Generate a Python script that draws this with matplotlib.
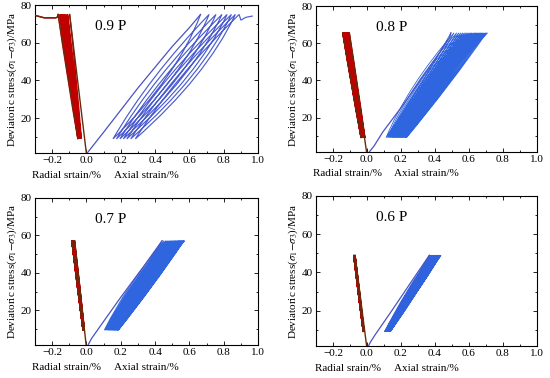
import matplotlib
matplotlib.use("Agg")
import matplotlib.pyplot as plt
from matplotlib.path import Path
from matplotlib.patches import PathPatch
from matplotlib.ticker import MultipleLocator

plt.rcParams['font.family'] = ['Liberation Serif', 'DejaVu Serif']
plt.rcParams['mathtext.fontset'] = 'stix'

# ---------------- data ----------------
panel_labels = ["0.9 P", "0.8 P", "0.7 P", "0.6 P"]
radial_labels = ["Radial srtain/%", "Radial strain/%", "Radial strain/%", "Radial srain/%"]
axial_label = "Axial strain/%"
ylabel = r"Deviatoric stress($\sigma_1$$-$$\sigma_3$)/MPa"
x_ticks = [-0.2, 0.0, 0.2, 0.4, 0.6, 0.8, 1.0]
x_ticklabels = ["\u22120.2", "0.0", "0.2", "0.4", "0.6", "0.8", "1.0"]
y_ticks = [20, 40, 60, 80]

# stress limits of the cycles
stress_max = [75.0, 65.6, 57.2, 49.0]
stress_min = [9.0, 9.2, 9.4, 9.0]

# initial loading curves (axial)
init_axial_x = [[0.0, 0.10, 0.30, 0.50, 0.60, 0.665],
                [0.0, 0.043, 0.092, 0.21, 0.347, 0.484, 0.494],
                [0.0, 0.03, 0.08, 0.20, 0.33, 0.441],
                [0.0, 0.02, 0.049, 0.15, 0.26, 0.367]]
init_axial_y = [[1.0, 12.5, 36.0, 58.0, 68.0, 75.0],
                [0.0, 4.9, 12.1, 26.5, 44.5, 62.5, 65.6],
                [0.0, 5.0, 11.5, 27.0, 43.0, 57.2],
                [0.0, 3.5, 7.5, 20.5, 35.0, 49.0]]

# axial strain at peak / valley of every cycle
axial_peak = [
    [0.665, 0.715, 0.755, 0.79, 0.82, 0.845, 0.868, 0.89],
    [0.494, 0.512, 0.528, 0.541, 0.553, 0.564, 0.574, 0.584, 0.593, 0.602,
     0.61, 0.618, 0.626, 0.634, 0.641, 0.648, 0.655, 0.662, 0.669, 0.676,
     0.683, 0.69, 0.697, 0.704, 0.71],
    [0.441, 0.452, 0.462, 0.470, 0.477, 0.484, 0.490, 0.496, 0.501, 0.506,
     0.511, 0.515, 0.519, 0.523, 0.527, 0.531, 0.535, 0.538, 0.541, 0.544,
     0.547, 0.550, 0.553, 0.556, 0.559, 0.562, 0.565, 0.567, 0.570, 0.573],
    [0.367, 0.374, 0.380, 0.385, 0.389, 0.393, 0.396, 0.399, 0.402, 0.405,
     0.407, 0.409, 0.411, 0.413, 0.415, 0.417, 0.419, 0.420, 0.422, 0.423,
     0.425, 0.426, 0.427, 0.428, 0.429, 0.430, 0.431, 0.432, 0.434, 0.435],
]
axial_valley = [
    [0.155, 0.175, 0.195, 0.215, 0.235, 0.258, 0.285],
    [0.112, 0.12, 0.127, 0.133, 0.139, 0.145, 0.15, 0.155, 0.16, 0.165,
     0.17, 0.175, 0.18, 0.185, 0.19, 0.195, 0.2, 0.205, 0.21, 0.215,
     0.22, 0.225, 0.229, 0.233],
    [0.104, 0.110, 0.115, 0.120, 0.124, 0.128, 0.132, 0.135, 0.138, 0.141,
     0.144, 0.147, 0.150, 0.153, 0.155, 0.158, 0.160, 0.163, 0.165, 0.168,
     0.170, 0.172, 0.175, 0.177, 0.179, 0.181, 0.183, 0.185, 0.186],
    [0.104, 0.107, 0.110, 0.112, 0.114, 0.116, 0.118, 0.119, 0.120, 0.121,
     0.122, 0.123, 0.124, 0.125, 0.126, 0.127, 0.128, 0.128, 0.129, 0.130,
     0.131, 0.131, 0.132, 0.133, 0.134, 0.134, 0.135, 0.136, 0.137],
]
# failure branch after the last peak (0.9 P only)
final_axial_x = [[0.90, 0.93, 0.97], [], [], []]
final_axial_y = [[72.0, 73.5, 74.2], [], [], []]

# radial strain at peak / valley of every cycle
radial_peak = [
    [-0.098, -0.11, -0.12, -0.13, -0.138, -0.146, -0.155, -0.165],
    [-0.104, -0.108, -0.111, -0.114, -0.116, -0.118, -0.12, -0.122, -0.124, -0.126,
     -0.127, -0.129, -0.13, -0.132, -0.133, -0.134, -0.135, -0.136, -0.137, -0.138,
     -0.139, -0.14, -0.141, -0.142, -0.143],
    [-0.069, -0.0705, -0.072, -0.073, -0.074, -0.075, -0.0758, -0.0765, -0.0772, -0.0778,
     -0.0784, -0.079, -0.0795, -0.08, -0.0805, -0.081, -0.0814, -0.0818, -0.0822, -0.0826,
     -0.083, -0.0833, -0.0836, -0.0839, -0.0842, -0.0845, -0.0848, -0.085, -0.0852, -0.0855],
    [-0.070, -0.0705, -0.071, -0.0715, -0.072, -0.0724, -0.0728, -0.0732, -0.0736, -0.074,
     -0.0743, -0.0746, -0.0749, -0.0752, -0.0755, -0.0758, -0.076, -0.0762, -0.0764, -0.0766,
     -0.0768, -0.077, -0.0772, -0.0774, -0.0775, -0.0776, -0.0777, -0.0778, -0.0779, -0.078],
]
radial_valley = [
    [-0.03, -0.033, -0.036, -0.04, -0.043, -0.046, -0.05],
    [-0.012, -0.014, -0.016, -0.017, -0.018, -0.019, -0.02, -0.021, -0.022, -0.023,
     -0.024, -0.025, -0.026, -0.027, -0.028, -0.029, -0.03, -0.03, -0.031, -0.032,
     -0.033, -0.033, -0.034, -0.035],
    [-0.012, -0.0125, -0.013, -0.0134, -0.0138, -0.0142, -0.0145, -0.0148, -0.0151, -0.0154,
     -0.0157, -0.016, -0.0163, -0.0166, -0.0169, -0.0172, -0.0175, -0.0178, -0.018, -0.0182,
     -0.0184, -0.0186, -0.0188, -0.019, -0.0192, -0.0194, -0.0196, -0.0198, -0.02],
    [-0.017, -0.0173, -0.0176, -0.0179, -0.0182, -0.0185, -0.0188, -0.019, -0.0192, -0.0194,
     -0.0196, -0.0198, -0.02, -0.0202, -0.0204, -0.0205, -0.0206, -0.0207, -0.0208, -0.0209,
     -0.021, -0.0211, -0.0212, -0.0213, -0.0214, -0.0215, -0.0217, -0.0219, -0.022],
]
final_radial_x = [[-0.17, -0.18, -0.245, -0.3], [], [], []]
final_radial_y = [[73.5, 73.2, 73.2, 74.5], [], [], []]

# ---------------- styling ----------------
axes_rects = [[0.0636, 0.5952, 0.4055, 0.3915],
              [0.5745, 0.5979, 0.4018, 0.3862],
              [0.0636, 0.0873, 0.4055, 0.3889],
              [0.5745, 0.0847, 0.4018, 0.3968]]
axial_bow_unload = [0.12, 0.02, 0.015, 0.008]
axial_bow_load = [-0.07, -0.07, -0.045, -0.02]
radial_bow = [0.006, 0.004, 0.002, 0.0015]
axial_lw = [0.85, 0.6, 0.7, 0.8]
axial_color = ["#4a5cd0", "#2f66df", "#2f66df", "#2f62dc"]
axial_init_color = "#4a52c4"
radial_color = "#c00000"
radial_edge = "#6a2a0c"


def cycle_path(start_x, start_y, peaks, valleys, smax, smin, bow_un, bow_ld, end_x, end_y):
    verts = [(x, y) for x, y in zip(start_x, start_y)]
    codes = [Path.MOVETO] + [Path.LINETO] * (len(verts) - 1)
    for i, v in enumerate(valleys):
        p0 = (peaks[i], smax)
        p1 = (v, smin)
        c = ((p0[0] + p1[0]) / 2 + bow_un, (smax + smin) / 2)
        verts += [c, p1]
        codes += [Path.CURVE3, Path.CURVE3]
        p2 = (peaks[i + 1], smax)
        c = ((p1[0] + p2[0]) / 2 + bow_ld, (smax + smin) / 2)
        verts += [c, p2]
        codes += [Path.CURVE3, Path.CURVE3]
    for x, y in zip(end_x, end_y):
        verts.append((x, y))
        codes.append(Path.LINETO)
    return Path(verts, codes)


fig = plt.figure(figsize=(5.5, 3.78), dpi=100)
for k in range(4):
    ax = fig.add_axes(axes_rects[k])
    smax, smin = stress_max[k], stress_min[k]
    # axial
    ax.plot(init_axial_x[k], init_axial_y[k], color=axial_init_color, lw=0.9, zorder=3)
    pa = cycle_path(init_axial_x[k][-1:], init_axial_y[k][-1:], axial_peak[k], axial_valley[k],
                    smax, smin, axial_bow_unload[k], axial_bow_load[k],
                    final_axial_x[k], final_axial_y[k])
    ax.add_patch(PathPatch(pa, fill=False, edgecolor=axial_color[k], lw=axial_lw[k], zorder=2))
    # radial
    ax.plot([0.0, radial_peak[k][0]], [0.0 if k else 1.0, smax], color=radial_edge, lw=1.0, zorder=3)
    pr = cycle_path([radial_peak[k][0]], [smax], radial_peak[k], radial_valley[k],
                    smax, smin, radial_bow[k], -radial_bow[k],
                    final_radial_x[k], final_radial_y[k])
    ax.add_patch(PathPatch(pr, fill=False, edgecolor=radial_color, lw=1.0, zorder=2))
    ax.plot([radial_peak[k][-1], radial_valley[k][-1]], [smax, smin], color=radial_edge, lw=0.9, zorder=3)
    if final_radial_x[k]:
        ax.plot([radial_peak[k][-1]] + final_radial_x[k], [smax] + final_radial_y[k],
                color=radial_edge, lw=1.0, zorder=3)

    ax.set_xlim(-0.3, 1.0)
    ax.set_ylim(1.5, 80)
    ax.set_xticks(x_ticks)
    ax.set_xticklabels(x_ticklabels)
    ax.set_yticks(y_ticks)
    ax.xaxis.set_minor_locator(MultipleLocator(0.1))
    ax.yaxis.set_minor_locator(MultipleLocator(10))
    ax.tick_params(which='both', direction='in', top=True, right=True, labelsize=8, pad=2.5, width=0.6)
    ax.tick_params(which='major', length=3)
    ax.tick_params(which='minor', length=1.6)
    for s in ax.spines.values():
        s.set_linewidth(0.8)
    ax.set_ylabel(ylabel, fontsize=8, labelpad=1)
    ax.text(0.27, 0.855, panel_labels[k], transform=ax.transAxes, fontsize=11, ha='left', va='center')
    ax.text(0.143, -0.15, radial_labels[k], transform=ax.transAxes, fontsize=8, ha='center', va='center')
    ax.text(0.50, -0.15, axial_label, transform=ax.transAxes, fontsize=8, ha='center', va='center')

fig.savefig("out.png", dpi=100)
